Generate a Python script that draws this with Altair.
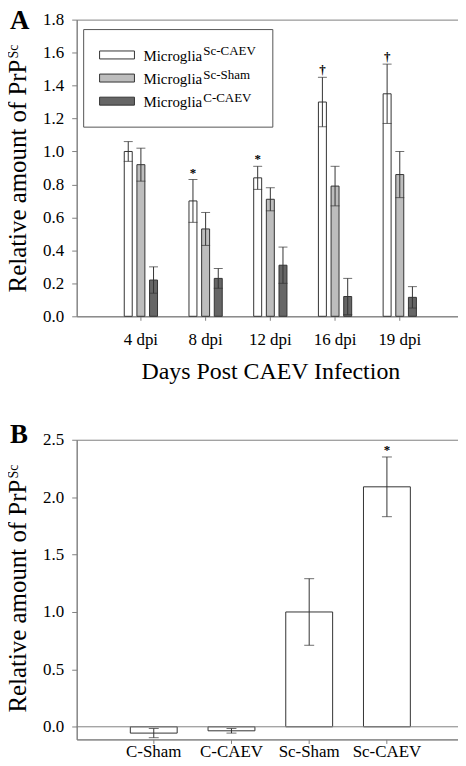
import altair as alt
import pandas as pd

# ---------------- data ----------------
days = ["4 dpi", "8 dpi", "12 dpi", "16 dpi", "19 dpi"]
groups = ["Sc-CAEV", "Sc-Sham", "C-CAEV"]
sc_caev = [1.00, 0.70, 0.84, 1.30, 1.35]
sc_caev_err = [0.06, 0.13, 0.07, 0.15, 0.18]
sc_sham = [0.92, 0.53, 0.71, 0.79, 0.86]
sc_sham_err = [0.10, 0.10, 0.07, 0.12, 0.14]
c_caev = [0.22, 0.23, 0.31, 0.12, 0.115]
c_caev_err = [0.08, 0.06, 0.11, 0.11, 0.065]
sig_a = ["", "*", "*", "\u2020", "\u2020"]
y_ticks_a = [0.0, 0.2, 0.4, 0.6, 0.8, 1.0, 1.2, 1.4, 1.6, 1.8]

conds = ["C-Sham", "C-CAEV", "Sc-Sham", "Sc-CAEV"]
vals_b = [-0.055, -0.035, 1.00, 2.09]
err_b = [0.04, 0.02, 0.29, 0.26]
sig_b = ["", "", "", "*"]
y_ticks_b = [0.0, 0.5, 1.0, 1.5, 2.0, 2.5]

# ---------------- styles ----------------
FONT = "Liberation Serif"
fills = ["#ffffff", "#bdbdbd", "#666666"]
EDGE = "#333333"
AXC = "#808080"

rows = []
for g, vals, errs in [("Sc-CAEV", sc_caev, sc_caev_err),
                      ("Sc-Sham", sc_sham, sc_sham_err),
                      ("C-CAEV", c_caev, c_caev_err)]:
    for i, d in enumerate(days):
        rows.append({"day": d, "group": g, "value": vals[i],
                     "lo": vals[i] - errs[i], "hi": vals[i] + errs[i],
                     "sig": sig_a[i] if g == "Sc-CAEV" else ""})
df_a = pd.DataFrame(rows)

df_b = pd.DataFrame({"cond": conds, "value": vals_b,
                     "lo": [v - e for v, e in zip(vals_b, err_b)],
                     "hi": [v + e for v, e in zip(vals_b, err_b)],
                     "sig": sig_b})

# Times-like widths (per em) for label layout
TW = {"R": .667, "e": .444, "l": .278, "a": .444, "t": .278, "i": .278, "v": .5,
      " ": .25, "m": .778, "o": .5, "u": .5, "n": .5, "f": .333, "P": .556,
      "r": .333, "S": .556, "c": .444, "M": .889, "g": .5}


def tw(s, size):
    return sum(TW.get(ch, .5) for ch in s) * size


W = 389
HA = 298
HB = 301

one = pd.DataFrame({"k": [0]})


def ytitle_layers(start):
    main, sup = "Relative amount of PrP", "Sc"
    fm, fs = 25, 14
    wm = tw(main, fm)
    t1 = alt.Chart(one).mark_text(text=main, font=FONT, fontSize=fm, angle=270,
                                  align="left", baseline="alphabetic", fill="black"
                                  ).encode(x=alt.value(-51), y=alt.value(start))
    t2 = alt.Chart(one).mark_text(text=sup, font=FONT, fontSize=fs, angle=270,
                                  align="left", baseline="alphabetic", fill="black"
                                  ).encode(x=alt.value(-58.5), y=alt.value(start - wm - 1))
    return [t1, t2]


def panel_letter(letter, ypix):
    return alt.Chart(one).mark_text(text=letter, font=FONT, fontSize=27, fontWeight="bold",
                                    align="left", baseline="top", fill="black"
                                    ).encode(x=alt.value(-67), y=alt.value(ypix))


# ---------------- panel A ----------------
ysc_a = alt.Scale(domain=[0, 1.8], nice=False, zero=False)
yax_a = alt.Axis(values=y_ticks_a, format=".1f", title=None, tickSize=5, labelPadding=8,
                 labelOverlap=False)

base_a = alt.Chart(df_a).encode(
    x=alt.X("day:N", sort=days,
            scale=alt.Scale(paddingInner=0.486, paddingOuter=0.735),
            axis=alt.Axis(title="Days Post CAEV Infection", labelAngle=0, tickSize=4,
                          labelPadding=11, titleFontSize=24, titleFontWeight="normal",
                          titlePadding=12, titleFont=FONT, titleColor="black",
                          labelOverlap=False)),
    xOffset=alt.XOffset("group:N", sort=groups,
                        scale=alt.Scale(paddingInner=0.37, paddingOuter=0)),
)

bars_a = base_a.mark_bar(stroke=EDGE, strokeWidth=1).encode(
    y=alt.Y("value:Q", scale=ysc_a, axis=yax_a),
    fill=alt.Fill("group:N", scale=alt.Scale(domain=groups, range=fills), legend=None),
)
rule_a = base_a.mark_rule(color=EDGE, strokeWidth=1).encode(
    y=alt.Y("lo:Q", scale=ysc_a, axis=yax_a), y2="hi:Q")
caplo_a = base_a.mark_tick(color=EDGE, size=9, thickness=1).encode(
    y=alt.Y("lo:Q", scale=ysc_a, axis=yax_a))
caphi_a = base_a.mark_tick(color=EDGE, size=9, thickness=1).encode(
    y=alt.Y("hi:Q", scale=ysc_a, axis=yax_a))
sig_txt_a = base_a.transform_filter("datum.sig != ''").mark_text(
    font=FONT, fontSize=13, fontWeight="bold", baseline="alphabetic", dy=-3,
    fill="black").encode(y=alt.Y("hi:Q", scale=ysc_a, axis=yax_a), text="sig:N")

# legend (drawn by hand for superscripts)
LX0, LX1, LY0, LY1 = 7, 197, 10, 108
legend_layers = [alt.Chart(one).mark_rect(fill="white", stroke="#555555", strokeWidth=1).encode(
    x=alt.value(LX0), x2=alt.value(LX1), y=alt.value(LY0), y2=alt.value(LY1))]
ROW0, DROW = 35.5, 23.2
for i, g in enumerate(groups):
    cy = ROW0 + i * DROW
    legend_layers.append(alt.Chart(one).mark_rect(fill=fills[i], stroke=EDGE, strokeWidth=1).encode(
        x=alt.value(23), x2=alt.value(58), y=alt.value(cy - 4), y2=alt.value(cy + 4)))
    legend_layers.append(alt.Chart(one).mark_text(
        text="Microglia", font=FONT, fontSize=15, align="left", baseline="alphabetic",
        fill="black").encode(x=alt.value(67), y=alt.value(cy + 6)))
    legend_layers.append(alt.Chart(one).mark_text(
        text=g, font=FONT, fontSize=13, align="left", baseline="alphabetic",
        fill="black").encode(x=alt.value(67 + tw("Microglia", 15) + 1), y=alt.value(cy + 0.5)))

chart_a = alt.layer(bars_a, rule_a, caplo_a, caphi_a, sig_txt_a, *legend_layers,
                    *ytitle_layers(274), panel_letter("A", -12)).properties(width=W, height=HA)

# ---------------- panel B ----------------
ysc_b = alt.Scale(domain=[-0.11, 2.5], nice=False, zero=False)
yax_b = alt.Axis(values=y_ticks_b, format=".1f", title=None, tickSize=5, labelPadding=8,
                 labelOverlap=False)

base_b = alt.Chart(df_b).encode(
    x=alt.X("cond:N", sort=conds,
            scale=alt.Scale(paddingInner=0.397, paddingOuter=0.69),
            axis=alt.Axis(title=None, labelAngle=0, tickSize=4, labelPadding=0,
                          labelOverlap=False)),
)
bars_b = base_b.mark_bar(fill="white", stroke=EDGE, strokeWidth=1).encode(
    y=alt.Y("value:Q", scale=ysc_b, axis=yax_b))
zero_b = alt.Chart(one).mark_rule(color=AXC, strokeWidth=1).encode(
    y=alt.datum(0, scale=ysc_b, axis=yax_b))
rule_b = base_b.mark_rule(color=EDGE).encode(
    y=alt.Y("lo:Q", scale=ysc_b, axis=yax_b), y2="hi:Q")
caplo_b = base_b.mark_tick(color=EDGE, size=10, thickness=1).encode(
    y=alt.Y("lo:Q", scale=ysc_b, axis=yax_b))
caphi_b = base_b.mark_tick(color=EDGE, size=10, thickness=1).encode(
    y=alt.Y("hi:Q", scale=ysc_b, axis=yax_b))
sig_txt_b = base_b.transform_filter("datum.sig != ''").mark_text(
    font=FONT, fontSize=13, fontWeight="bold", baseline="alphabetic", dy=-3,
    fill="black").encode(y=alt.Y("hi:Q", scale=ysc_b, axis=yax_b), text="sig:N")

chart_b = alt.layer(bars_b, zero_b, rule_b, caplo_b, caphi_b, sig_txt_b,
                    *ytitle_layers(274), panel_letter("B", -18)).properties(width=W, height=HB)

chart = alt.vconcat(chart_a, chart_b, spacing=124, bounds="flush").properties(
    padding={"left": -3, "top": -4, "right": -7, "bottom": -2}
).configure_view(stroke=AXC, strokeWidth=1).configure_axis(
    grid=False, domainColor=AXC, tickColor=AXC, labelFont=FONT, labelFontSize=17,
    labelColor="black", domainWidth=1, tickWidth=1
)

chart.save("out.html", embed_options={"renderer": "svg", "actions": False})
